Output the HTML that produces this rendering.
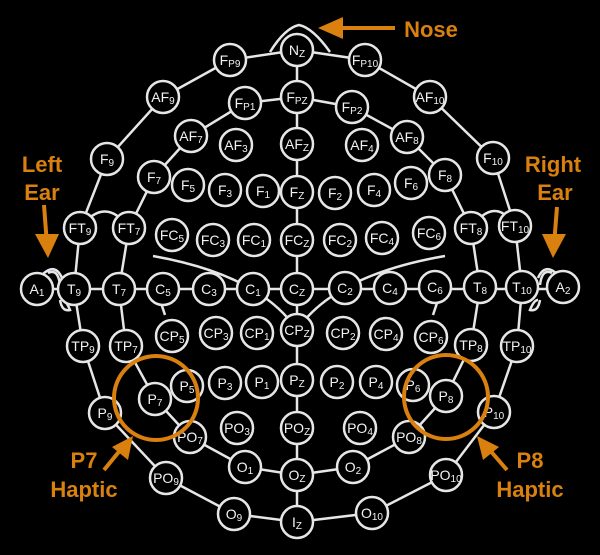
<!DOCTYPE html>
<html><head><meta charset="utf-8"><style>
html,body{margin:0;padding:0;background:#000;width:600px;height:555px;overflow:hidden}
svg{display:block}
.n circle{fill:#000;stroke:#e6e6e6;stroke-width:2.5}
.n text{fill:#f2f2f2;font-family:"Liberation Sans",sans-serif;font-size:14px;text-anchor:middle}
.n tspan{font-size:10px}
.l{fill:none;stroke:#e6e6e6;stroke-width:2.5}
.o{fill:#d9800f;font-family:"Liberation Sans",sans-serif;font-weight:bold;font-size:22px;text-anchor:middle}
</style></head><body>
<svg width="600" height="555" viewBox="0 0 600 555">
<g class="l">
<path d="M270 52 Q285 28 299 25 Q313 28 330 52"/>
<polyline points="297,50 230,60 163,97 107,159 80,228 74,289 83,346 105,413 166,478 234,514 297,522"/>
<polyline points="297,50 365,60 430,97 493,158 515,226 522,288 517,346 494,412 446,475 372,513 297,522"/>
<polyline points="297,97 245,103 191,136 154,177 129,228 119,289 126,346 155,399 190,437 245,467 297,475"/>
<polyline points="297,97 352,107 407,137 445,175 471,228 480,288 471,345 446,396 409,437 353,467 297,475"/>
<line x1="297" y1="50" x2="297" y2="522"/>
<line x1="37" y1="289" x2="563" y2="289"/>
<path d="M80 228 Q105 195 129 228"/>
<path d="M471 228 Q495 195 515 226"/>
<path d="M153 256 Q260 275 297 330"/>
<path d="M445 256 Q335 275 297 330"/>
<line x1="160" y1="300" x2="165" y2="315"/>
<line x1="438" y1="300" x2="433" y2="315"/>
<path d="M42 275 Q55 262 62 278 M48 273 Q58 268 60 285 M60 300 Q62 312 70 310 Q66 300 62 300"/>
<path d="M558 275 Q545 262 538 278 M552 273 Q542 268 540 285 M540 300 Q538 312 530 310 Q534 300 538 300"/>
</g>
<g class="n">
<g><circle cx="297" cy="50" r="16"/><text x="297" y="55">N<tspan dy="2">Z</tspan></text></g>
<g><circle cx="230" cy="60" r="16"/><text x="230" y="65">F<tspan dy="2">P9</tspan></text></g>
<g><circle cx="365" cy="60" r="16"/><text x="365" y="65">F<tspan dy="2">P10</tspan></text></g>
<g><circle cx="297" cy="97" r="16"/><text x="297" y="102">F<tspan dy="2">PZ</tspan></text></g>
<g><circle cx="163" cy="97" r="16"/><text x="163" y="102">AF<tspan dy="2">9</tspan></text></g>
<g><circle cx="430" cy="97" r="16"/><text x="430" y="102">AF<tspan dy="2">10</tspan></text></g>
<g><circle cx="245" cy="103" r="16"/><text x="245" y="108">F<tspan dy="2">P1</tspan></text></g>
<g><circle cx="352" cy="107" r="16"/><text x="352" y="112">F<tspan dy="2">P2</tspan></text></g>
<g><circle cx="191" cy="136" r="16"/><text x="191" y="141">AF<tspan dy="2">7</tspan></text></g>
<g><circle cx="236" cy="145" r="16"/><text x="236" y="150">AF<tspan dy="2">3</tspan></text></g>
<g><circle cx="297" cy="144" r="16"/><text x="297" y="149">AF<tspan dy="2">Z</tspan></text></g>
<g><circle cx="362" cy="145" r="16"/><text x="362" y="150">AF<tspan dy="2">4</tspan></text></g>
<g><circle cx="407" cy="137" r="16"/><text x="407" y="142">AF<tspan dy="2">8</tspan></text></g>
<g><circle cx="107" cy="159" r="16"/><text x="107" y="164">F<tspan dy="2">9</tspan></text></g>
<g><circle cx="493" cy="158" r="16"/><text x="493" y="163">F<tspan dy="2">10</tspan></text></g>
<g><circle cx="154" cy="177" r="16"/><text x="154" y="182">F<tspan dy="2">7</tspan></text></g>
<g><circle cx="188" cy="185" r="16"/><text x="188" y="190">F<tspan dy="2">5</tspan></text></g>
<g><circle cx="225" cy="190" r="16"/><text x="225" y="195">F<tspan dy="2">3</tspan></text></g>
<g><circle cx="263" cy="191" r="16"/><text x="263" y="196">F<tspan dy="2">1</tspan></text></g>
<g><circle cx="297" cy="192" r="16"/><text x="297" y="197">F<tspan dy="2">Z</tspan></text></g>
<g><circle cx="335" cy="193" r="16"/><text x="335" y="198">F<tspan dy="2">2</tspan></text></g>
<g><circle cx="374" cy="190" r="16"/><text x="374" y="195">F<tspan dy="2">4</tspan></text></g>
<g><circle cx="411" cy="183" r="16"/><text x="411" y="188">F<tspan dy="2">6</tspan></text></g>
<g><circle cx="445" cy="175" r="16"/><text x="445" y="180">F<tspan dy="2">8</tspan></text></g>
<g><circle cx="80" cy="228" r="16"/><text x="80" y="233">FT<tspan dy="2">9</tspan></text></g>
<g><circle cx="129" cy="228" r="16"/><text x="129" y="233">FT<tspan dy="2">7</tspan></text></g>
<g><circle cx="172" cy="235" r="16"/><text x="172" y="240">FC<tspan dy="2">5</tspan></text></g>
<g><circle cx="213" cy="240" r="16"/><text x="213" y="245">FC<tspan dy="2">3</tspan></text></g>
<g><circle cx="254" cy="240" r="16"/><text x="254" y="245">FC<tspan dy="2">1</tspan></text></g>
<g><circle cx="297" cy="240" r="16"/><text x="297" y="245">FC<tspan dy="2">Z</tspan></text></g>
<g><circle cx="340" cy="240" r="16"/><text x="340" y="245">FC<tspan dy="2">2</tspan></text></g>
<g><circle cx="382" cy="238" r="16"/><text x="382" y="243">FC<tspan dy="2">4</tspan></text></g>
<g><circle cx="429" cy="233" r="16"/><text x="429" y="238">FC<tspan dy="2">6</tspan></text></g>
<g><circle cx="471" cy="228" r="16"/><text x="471" y="233">FT<tspan dy="2">8</tspan></text></g>
<g><circle cx="515" cy="226" r="16"/><text x="515" y="231">FT<tspan dy="2">10</tspan></text></g>
<g><circle cx="37" cy="289" r="16"/><text x="37" y="294">A<tspan dy="2">1</tspan></text></g>
<g><circle cx="74" cy="289" r="16"/><text x="74" y="294">T<tspan dy="2">9</tspan></text></g>
<g><circle cx="119" cy="289" r="16"/><text x="119" y="294">T<tspan dy="2">7</tspan></text></g>
<g><circle cx="163" cy="289" r="16"/><text x="163" y="294">C<tspan dy="2">5</tspan></text></g>
<g><circle cx="209" cy="289" r="16"/><text x="209" y="294">C<tspan dy="2">3</tspan></text></g>
<g><circle cx="253" cy="289" r="16"/><text x="253" y="294">C<tspan dy="2">1</tspan></text></g>
<g><circle cx="297" cy="289" r="16"/><text x="297" y="294">C<tspan dy="2">Z</tspan></text></g>
<g><circle cx="345" cy="288" r="16"/><text x="345" y="293">C<tspan dy="2">2</tspan></text></g>
<g><circle cx="390" cy="288" r="16"/><text x="390" y="293">C<tspan dy="2">4</tspan></text></g>
<g><circle cx="435" cy="287" r="16"/><text x="435" y="292">C<tspan dy="2">6</tspan></text></g>
<g><circle cx="480" cy="287" r="16"/><text x="480" y="292">T<tspan dy="2">8</tspan></text></g>
<g><circle cx="522" cy="287" r="16"/><text x="522" y="292">T<tspan dy="2">10</tspan></text></g>
<g><circle cx="563" cy="287" r="16"/><text x="563" y="292">A<tspan dy="2">2</tspan></text></g>
<g><circle cx="83" cy="346" r="16"/><text x="83" y="351">TP<tspan dy="2">9</tspan></text></g>
<g><circle cx="126" cy="346" r="16"/><text x="126" y="351">TP<tspan dy="2">7</tspan></text></g>
<g><circle cx="172" cy="336" r="16"/><text x="172" y="341">CP<tspan dy="2">5</tspan></text></g>
<g><circle cx="216" cy="333" r="16"/><text x="216" y="338">CP<tspan dy="2">3</tspan></text></g>
<g><circle cx="257" cy="333" r="16"/><text x="257" y="338">CP<tspan dy="2">1</tspan></text></g>
<g><circle cx="297" cy="330" r="16"/><text x="297" y="335">CP<tspan dy="2">Z</tspan></text></g>
<g><circle cx="343" cy="333" r="16"/><text x="343" y="338">CP<tspan dy="2">2</tspan></text></g>
<g><circle cx="386" cy="334" r="16"/><text x="386" y="339">CP<tspan dy="2">4</tspan></text></g>
<g><circle cx="431" cy="337" r="16"/><text x="431" y="342">CP<tspan dy="2">6</tspan></text></g>
<g><circle cx="471" cy="345" r="16"/><text x="471" y="350">TP<tspan dy="2">8</tspan></text></g>
<g><circle cx="517" cy="346" r="16"/><text x="517" y="351">TP<tspan dy="2">10</tspan></text></g>
<g><circle cx="105" cy="413" r="16"/><text x="105" y="418">P<tspan dy="2">9</tspan></text></g>
<g><circle cx="155" cy="399" r="16"/><text x="155" y="404">P<tspan dy="2">7</tspan></text></g>
<g><circle cx="187" cy="386" r="16"/><text x="187" y="391">P<tspan dy="2">5</tspan></text></g>
<g><circle cx="225" cy="383" r="16"/><text x="225" y="388">P<tspan dy="2">3</tspan></text></g>
<g><circle cx="262" cy="382" r="16"/><text x="262" y="387">P<tspan dy="2">1</tspan></text></g>
<g><circle cx="297" cy="380" r="16"/><text x="297" y="385">P<tspan dy="2">Z</tspan></text></g>
<g><circle cx="337" cy="382" r="16"/><text x="337" y="387">P<tspan dy="2">2</tspan></text></g>
<g><circle cx="376" cy="382" r="16"/><text x="376" y="387">P<tspan dy="2">4</tspan></text></g>
<g><circle cx="413" cy="385" r="16"/><text x="413" y="390">P<tspan dy="2">6</tspan></text></g>
<g><circle cx="446" cy="396" r="16"/><text x="446" y="401">P<tspan dy="2">8</tspan></text></g>
<g><circle cx="494" cy="412" r="16"/><text x="494" y="417">P<tspan dy="2">10</tspan></text></g>
<g><circle cx="190" cy="437" r="16"/><text x="190" y="442">PO<tspan dy="2">7</tspan></text></g>
<g><circle cx="237" cy="428" r="16"/><text x="237" y="433">PO<tspan dy="2">3</tspan></text></g>
<g><circle cx="297" cy="428" r="16"/><text x="297" y="433">PO<tspan dy="2">Z</tspan></text></g>
<g><circle cx="360" cy="428" r="16"/><text x="360" y="433">PO<tspan dy="2">4</tspan></text></g>
<g><circle cx="409" cy="437" r="16"/><text x="409" y="442">PO<tspan dy="2">8</tspan></text></g>
<g><circle cx="245" cy="467" r="16"/><text x="245" y="472">O<tspan dy="2">1</tspan></text></g>
<g><circle cx="297" cy="475" r="16"/><text x="297" y="480">O<tspan dy="2">Z</tspan></text></g>
<g><circle cx="353" cy="467" r="16"/><text x="353" y="472">O<tspan dy="2">2</tspan></text></g>
<g><circle cx="166" cy="478" r="16"/><text x="166" y="483">PO<tspan dy="2">9</tspan></text></g>
<g><circle cx="446" cy="475" r="16"/><text x="446" y="480">PO<tspan dy="2">10</tspan></text></g>
<g><circle cx="234" cy="514" r="16"/><text x="234" y="519">O<tspan dy="2">9</tspan></text></g>
<g><circle cx="297" cy="522" r="16"/><text x="297" y="527">I<tspan dy="2">Z</tspan></text></g>
<g><circle cx="372" cy="513" r="16"/><text x="372" y="518">O<tspan dy="2">10</tspan></text></g>
</g>
<g fill="none" stroke="#d9800f" stroke-width="4">
<circle cx="156" cy="398" r="42"/>
<circle cx="446" cy="397" r="42"/>
<line x1="395" y1="28" x2="335" y2="28"/>
<line x1="44" y1="205" x2="47" y2="245"/>
<line x1="557" y1="207" x2="554" y2="245"/>
<line x1="104" y1="470" x2="122" y2="448"/>
<line x1="507" y1="470" x2="488" y2="448"/>
</g>
<g fill="#d9800f">
<polygon points="318,28 343,17 343,39"/>
<polygon points="48,258 35,234 59,234"/>
<polygon points="553,258 542,234 566,234"/>
<polygon points="133,436 112,447 128,460"/>
<polygon points="477,436 483,460 499,447"/>
</g>
<text class="o" x="431" y="37">Nose</text>
<text class="o" x="42" y="172">Left</text>
<text class="o" x="42" y="200">Ear</text>
<text class="o" x="553" y="172">Right</text>
<text class="o" x="555" y="200">Ear</text>
<text class="o" x="84" y="468">P7</text>
<text class="o" x="84" y="497">Haptic</text>
<text class="o" x="530" y="468">P8</text>
<text class="o" x="530" y="497">Haptic</text>
</svg>
</body></html>
